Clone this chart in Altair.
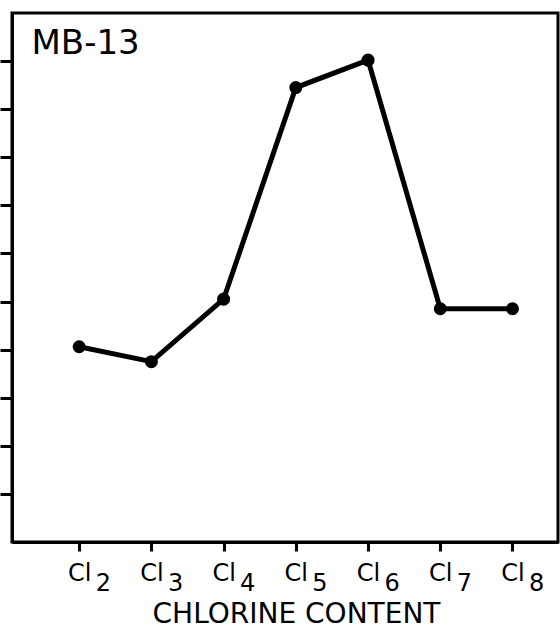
import altair as alt
import pandas as pd

# Data
chlorine = [2, 3, 4, 5, 6, 7, 8]
values = [4.06, 3.75, 5.05, 9.45, 10.02, 4.85, 4.85]
y_ticks = [1, 2, 3, 4, 5, 6, 7, 8, 9, 10]
panel_label = "MB-13"
x_title = "CHLORINE CONTENT"

df = pd.DataFrame({"n": chlorine, "v": values})

FONT = "DejaVu Sans"
x_scale = alt.Scale(domain=[1.07, 8.63], nice=False, zero=False)
y_scale = alt.Scale(domain=[0, 11], nice=False, zero=False)

y_axis = alt.Axis(
    values=y_ticks,
    labels=False,
    title=None,
    tickSize=12,
    tickWidth=3,
    tickColor="black",
    domainWidth=3,
    domainColor="black",
    grid=False,
)

base = alt.Chart(df)

line = base.mark_line(color="black", strokeWidth=5).encode(
    x=alt.X(
        "n:Q",
        scale=x_scale,
        axis=alt.Axis(
            orient="bottom",
            values=chlorine,
            labelExpr="'Cl'",
            labelFont=FONT,
            labelFontSize=24,
            labelColor="black",
            labelPadding=10,
            labelAlign="center",
            labelBaseline="top",
            tickSize=9,
            tickWidth=3,
            tickColor="black",
            domainWidth=3,
            domainColor="black",
            grid=False,
            title=x_title,
            titleFont=FONT,
            titleFontSize=28,
            titleFontWeight="normal",
            titleColor="black",
            titlePadding=15,
            titleX=284,
            titleAnchor="start",
            titleAlign="center",
        ),
    ),
    y=alt.Y("v:Q", scale=y_scale, axis=y_axis),
)

points = base.mark_circle(color="black", size=170, opacity=1).encode(
    x=alt.X(
        "n:Q",
        scale=x_scale,
        axis=alt.Axis(
            orient="bottom",
            values=chlorine,
            format="d",
            labelFont=FONT,
            labelFontSize=24,
            labelColor="black",
            labelAlign="left",
            labelBaseline="top",
            labelOffset=16,
            labelPadding=29,
            domain=False,
            ticks=False,
            tickSize=0,
            grid=False,
            title=None,
        ),
    ),
    y=alt.Y("v:Q", scale=y_scale, axis=y_axis),
)

chart = (
    alt.layer(line, points)
    .resolve_axis(x="independent")
    .properties(
        width=546,
        height=529,
        autosize=alt.AutoSizeParams(type="none"),
        padding={"left": 12, "top": 13, "right": 2, "bottom": 88},
        title=alt.TitleParams(
            text=panel_label,
            anchor="start",
            font=FONT,
            fontSize=34,
            fontWeight="normal",
            color="black",
            baseline="top",
            offset=-20,
            dx=33,
            dy=28,
        ),
    )
    .configure(background="white")
    .configure_view(stroke="black", strokeWidth=3)
)

chart.save("out.html", embed_options={"renderer": "svg", "actions": False})
